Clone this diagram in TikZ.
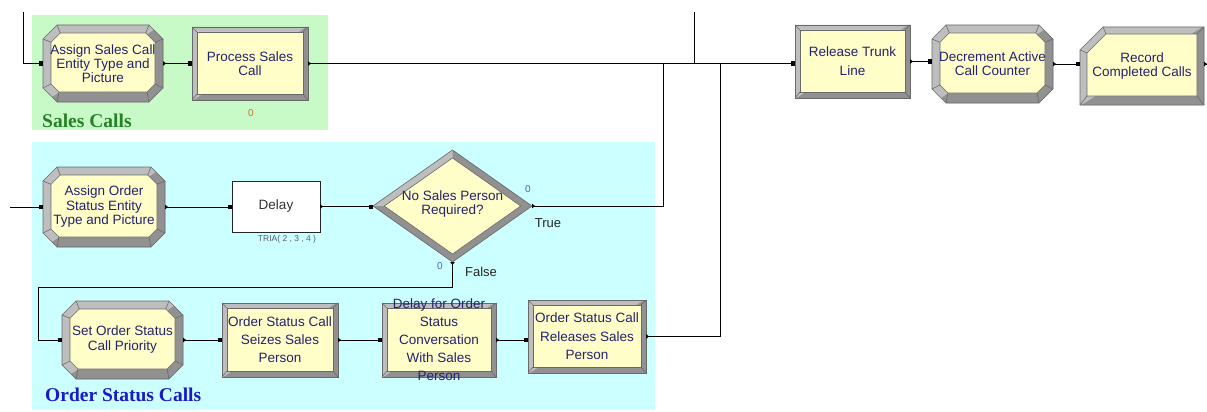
\documentclass[tikz,border=0pt]{standalone}
\usepackage{fontspec}
\setmainfont{Liberation Sans}
\newfontfamily\grpfont{Liberation Serif}
\usetikzlibrary{arrows.meta,shapes.geometric}
\pgfdeclarelayer{regions}
\pgfdeclarelayer{shapes}
\pgfsetlayers{regions,shapes,main}
\definecolor{blockfill}{RGB}{255,253,200}
\definecolor{bandlight}{RGB}{190,190,190}
\definecolor{banddark}{RGB}{145,145,145}
\definecolor{edgegray}{RGB}{105,105,105}
\definecolor{txtblue}{RGB}{35,35,110}
\definecolor{greenbg}{RGB}{200,250,200}
\definecolor{cyanbg}{RGB}{204,255,255}
\definecolor{grpgreen}{RGB}{40,128,40}
\definecolor{grpblue}{RGB}{25,25,200}
\definecolor{cntorange}{RGB}{200,110,50}
\definecolor{cntblue}{RGB}{70,100,190}
\definecolor{triagray}{RGB}{90,90,120}
\tikzset{
  edge/.style={draw=edgegray, line width=0.6pt, line join=miter},
  btxt/.style={align=center, text=txtblue, font=\fontsize{13.5}{14}\selectfont, inner sep=0pt, outer sep=0pt},
  widetxt/.style={font=\fontsize{13.5}{18}\selectfont},
  conn/.style={line width=0.9pt, {Triangle[reversed,length=3pt,width=4.5pt]}-{Square[length=4pt,width=4pt]}},
  outconn/.style={line width=0.9pt, {Triangle[reversed,length=3pt,width=4.5pt]}-},
  inconn/.style={line width=0.9pt, -{Square[length=4pt,width=4pt]}},
  plainline/.style={line width=0.9pt},
  grplabel/.style={font=\grpfont\bfseries\fontsize{19.5}{20}\selectfont, anchor=base west, inner sep=0pt},
  cnt/.style={font=\fontsize{10}{10}\selectfont, inner sep=0pt},
  branchlbl/.style={font=\fontsize{13}{14}\selectfont, text=black!85, inner sep=0pt}
}
\def\bd{5pt}\def\bdb{6pt}
% #1 node name, #2-#5 outer chamfers NW NE SE SW, #6-#9 inner chamfers
\newcommand\bevelblock[9]{%
  \coordinate (#1-o1) at ([xshift=#2]#1.north west);
  \coordinate (#1-o2) at ([xshift=-#3]#1.north east);
  \coordinate (#1-o3) at ([yshift=-#3]#1.north east);
  \coordinate (#1-o4) at ([yshift=#4]#1.south east);
  \coordinate (#1-o5) at ([xshift=-#4]#1.south east);
  \coordinate (#1-o6) at ([xshift=#5]#1.south west);
  \coordinate (#1-o7) at ([yshift=#5]#1.south west);
  \coordinate (#1-o8) at ([yshift=-#2]#1.north west);
  \coordinate (#1-i1) at ([xshift=\bd+#6,yshift=-\bd]#1.north west);
  \coordinate (#1-i2) at ([xshift=-\bd-#7,yshift=-\bd]#1.north east);
  \coordinate (#1-i3) at ([xshift=-\bd,yshift=-\bd-#7]#1.north east);
  \coordinate (#1-i4) at ([xshift=-\bd,yshift=\bdb+#8]#1.south east);
  \coordinate (#1-i5) at ([xshift=-\bd-#8,yshift=\bdb]#1.south east);
  \coordinate (#1-i6) at ([xshift=\bd+#9,yshift=\bdb]#1.south west);
  \coordinate (#1-i7) at ([xshift=\bd,yshift=\bdb+#9]#1.south west);
  \coordinate (#1-i8) at ([xshift=\bd,yshift=-\bd-#6]#1.north west);
  \begin{pgfonlayer}{shapes}
    \fill[bandlight] (#1-o1) -- (#1-o2) -- (#1-o3) -- (#1-o4) -- (#1-o5) -- (#1-o6) -- (#1-o7) -- (#1-o8) -- cycle;
    \begin{scope}
      \clip ([xshift=3pt,yshift=3pt]#1.north east) -- ([xshift=3pt,yshift=-3pt]#1.south east) -- ([xshift=-3pt,yshift=-3pt]#1.south west) -- cycle;
      \fill[banddark] (#1-o1) -- (#1-o2) -- (#1-o3) -- (#1-o4) -- (#1-o5) -- (#1-o6) -- (#1-o7) -- (#1-o8) -- cycle;
    \end{scope}
    \fill[blockfill] (#1-i1) -- (#1-i2) -- (#1-i3) -- (#1-i4) -- (#1-i5) -- (#1-i6) -- (#1-i7) -- (#1-i8) -- cycle;
    \draw[edge] (#1-o1) -- (#1-o2) -- (#1-o3) -- (#1-o4) -- (#1-o5) -- (#1-o6) -- (#1-o7) -- (#1-o8) -- cycle;
    \draw[edge] (#1-i1) -- (#1-i2) -- (#1-i3) -- (#1-i4) -- (#1-i5) -- (#1-i6) -- (#1-i7) -- (#1-i8) -- cycle;
    \draw[edge] (#1-o1) -- (#1-i1) (#1-o2) -- (#1-i2) (#1-o3) -- (#1-i3) (#1-o4) -- (#1-i4)
                (#1-o5) -- (#1-i5) (#1-o6) -- (#1-i6) (#1-o7) -- (#1-i7) (#1-o8) -- (#1-i8);
  \end{pgfonlayer}}
\newcommand\rectblock[1]{\def\bd{5pt}\def\bdb{6pt}\bevelblock{#1}{0pt}{0pt}{0pt}{0pt}{0pt}{0pt}{0pt}{0pt}}
\newcommand\octblock[1]{\def\bd{8pt}\def\bdb{10pt}\bevelblock{#1}{14pt}{14pt}{14pt}{14pt}{9.3pt}{9.3pt}{8pt}{8pt}}
\newcommand\recblock[1]{\def\bd{7pt}\def\bdb{9pt}\bevelblock{#1}{23pt}{0pt}{0pt}{0pt}{19pt}{0pt}{0pt}{0pt}}
\begin{document}
\begin{tikzpicture}[x=1pt,y=-1pt]
\useasboundingbox (0,0) rectangle (1207,412);
\begin{pgfonlayer}{regions}
  \fill[white] (0,0) rectangle (1207,412);
  \fill[greenbg] (32,15) rectangle (328,130);
  \fill[cyanbg] (32,142) rectangle (655,410);
\end{pgfonlayer}

% group labels
\node[grplabel, text=grpgreen] (lblsales) at (42,127) {Sales Calls};
\node[grplabel, text=grpblue] (lblorder) at (45,401) {Order Status Calls};

% top row
\node[btxt, minimum width=120pt, minimum height=77pt] (asc) at (103,63.5) {Assign Sales Call\\Entity Type and\\Picture};
\octblock{asc}
\node[btxt, minimum width=116pt, minimum height=73pt] (psc) at (250,63.5) {Process Sales\\Call};
\rectblock{psc}
\node[cnt, text=cntorange] (pscc) at (251,113) {0};
\node[btxt, font=\fontsize{13.5}{19}\selectfont, minimum width=115pt, minimum height=73pt] (rtl) at (852.5,61.5) {Release Trunk\\Line};
\rectblock{rtl}
\node[btxt, minimum width=121pt, minimum height=78pt] (dac) at (992.5,64) {Decrement Active\\Call Counter};
\octblock{dac}
\node[btxt, minimum width=124pt, minimum height=78pt] (rcc) at (1142,66) {Record\\Completed Calls};
\recblock{rcc}

% middle row
\node[btxt, font=\fontsize{13.5}{14.5}\selectfont, minimum width=122pt, minimum height=80pt] (aos) at (104,207) {Assign Order\\Status Entity\\Type and Picture};
\octblock{aos}
\node[draw=black!85, line width=0.8pt, fill=white, text=black!80, font=\fontsize{13.5}{14}\selectfont, minimum width=88pt, minimum height=51pt, inner sep=0pt, outer sep=0pt] (delay) at (276,206.5) {Delay};
\node[font=\fontsize{8.5}{9}\selectfont, text=triagray, inner sep=0pt] (tria) at (287,239) {TRIA( 2 , 3 , 4 )};

\node[diamond, minimum width=159pt, minimum height=112pt, inner sep=0pt, outer sep=0pt] (dia) at (452.5,206) {};
\coordinate (dia-in) at ([yshift=-8pt]dia.north);
\coordinate (dia-ie) at ([xshift=-11.3pt]dia.east);
\coordinate (dia-is) at ([yshift=8pt]dia.south);
\coordinate (dia-iw) at ([xshift=11.3pt]dia.west);
\begin{pgfonlayer}{shapes}
  \fill[bandlight] (dia.north) -- (dia.east) -- (dia.south) -- (dia.west) -- cycle;
  \begin{scope}
    \clip (dia.north) -- ([xshift=5pt,yshift=5pt]dia.north -| dia.east) -- ([xshift=5pt,yshift=-5pt]dia.south -| dia.east) -- ([xshift=-5pt,yshift=-5pt]dia.south -| dia.west) -- (dia.west) -- (dia-iw) -- (dia-in) -- cycle;
    \fill[banddark] (dia.north) -- (dia.east) -- (dia.south) -- (dia.west) -- cycle;
  \end{scope}
  \fill[blockfill] (dia-in) -- (dia-ie) -- (dia-is) -- (dia-iw) -- cycle;
  \draw[edge] (dia.north) -- (dia.east) -- (dia.south) -- (dia.west) -- cycle;
  \draw[edge] (dia-in) -- (dia-ie) -- (dia-is) -- (dia-iw) -- cycle;
\end{pgfonlayer}
\node[btxt] (diatxt) at (452.5,204.5) {No Sales Person\\Required?};
\node[cnt, text=cntblue] (ctrue) at (528,189) {0};
\node[cnt, text=cntblue] (cfalse) at (440,266) {0};
\node[branchlbl] (ltrue) at (548,223) {True};
\node[branchlbl] (lfalse) at (481,272) {False};

% bottom row
\node[btxt, font=\fontsize{13.5}{15}\selectfont, minimum width=121pt, minimum height=78pt] (sos) at (122.5,340) {Set Order Status\\Call Priority};
\octblock{sos}
\node[btxt, widetxt, minimum width=116pt, minimum height=74pt] (seize) at (280,340) {Order Status Call\\Seizes Sales\\Person};
\rectblock{seize}
\node[minimum width=114pt, minimum height=74pt, inner sep=0pt, outer sep=0pt] (dfo) at (439,340) {};
\rectblock{dfo}
\node[btxt, widetxt] (dfotxt) at (439,340) {Delay for Order\\Status\\Conversation\\With Sales\\Person};
\node[btxt, font=\fontsize{13.5}{18.5}\selectfont, minimum width=118pt, minimum height=73pt] (rel) at (587,336.5) {Order Status Call\\Releases Sales\\Person};
\rectblock{rel}

% free ends and junctions
\coordinate (tl) at (23,12);
\coordinate (tm) at (694,12);
\coordinate (ain) at (10,207);
\coordinate (j1) at (663,63.5);
\coordinate (j2) at (720,63.5);
\coordinate (f1) at (452.5,287);
\coordinate (f2) at (38,287);
\coordinate (rout) at (1207,64);

% connectors
\draw[inconn] (tl) |- (asc.west);
\draw[conn] (asc.east) -- (psc.west);
\draw[conn] (psc.east) -- (psc.east -| rtl.west);
\draw[plainline] (tm) -- (tm |- psc.east);
\draw[conn] (rtl.east) -- (rtl.east -| dac.west);
\draw[conn] (dac.east) -- (dac.east -| rcc.west);
\draw[outconn] (rcc.east |- dac.east) -- (rout);

\draw[inconn] (ain) -- (aos.west);
\draw[conn] (aos.east) -- (aos.east -| delay.west);
\draw[conn] (delay.east) -- (delay.east -| dia.west);
\draw[outconn] (dia.east) -| (j1);
\draw[conn] (dia.south) -- (f1) -- (f2) |- (sos.west);

\draw[conn] (sos.east) -- (seize.west);
\draw[conn] (seize.east) -- (dfo.west);
\draw[conn] (dfo.east) -- (dfo.east -| rel.west);
\draw[outconn] (rel.east) -| (j2);
\end{tikzpicture}
\end{document}
